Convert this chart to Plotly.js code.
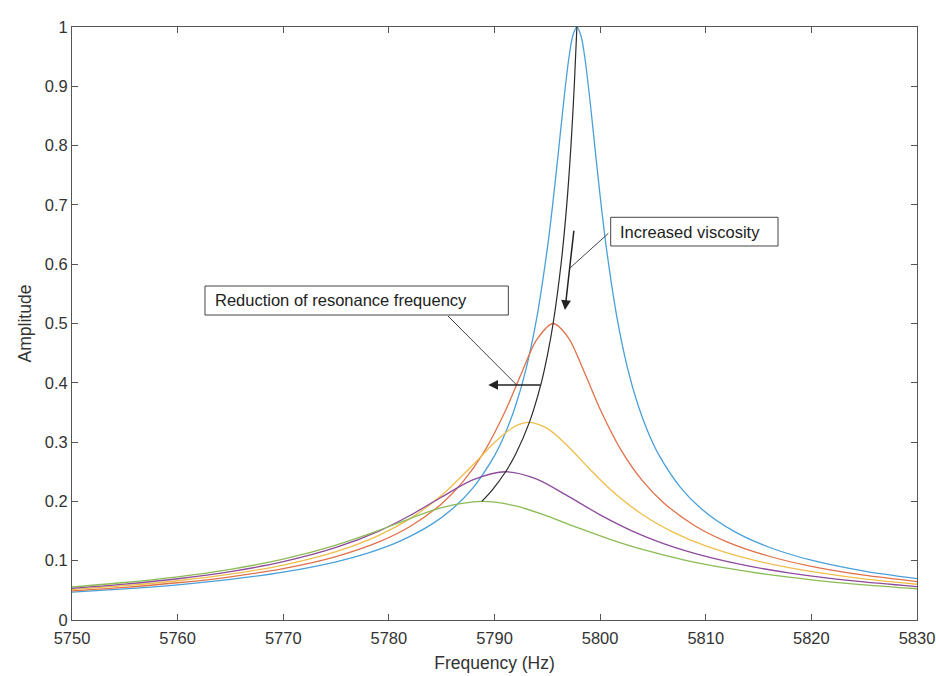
<!DOCTYPE html>
<html>
<head>
<meta charset="utf-8">
<script src="https://cdn.plot.ly/plotly-3.0.1.min.js"></script>
<style>html,body{margin:0;padding:0;background:#fff;}#chart{width:936px;height:676px;}</style>
</head>
<body>
<div id="chart"></div>
<script>
// Blue curve (lowest damping)
const freqBlue = [5750,5755,5760,5765,5770,5775,5778,5781,5784,5786,5788,5790,5791,5792,5793,5794,5795,5795.5,5796,5796.5,5797,5797.4,5797.8,5798.2,5798.6,5799.1,5799.6,5800.1,5800.6,5801.6,5802.6,5803.6,5804.6,5805.6,5807.6,5809.6,5812.6,5816,5820,5825,5830];
const ampBlue  = [0.0470,0.0525,0.0594,0.0684,0.0807,0.0982,0.1129,0.1327,0.1609,0.1873,0.2238,0.2771,0.3141,0.3617,0.4244,0.5095,0.6263,0.6993,0.7809,0.8659,0.9422,0.9845,1.0,0.9845,0.9422,0.8659,0.7809,0.6993,0.6263,0.5095,0.4244,0.3617,0.3141,0.2771,0.2238,0.1873,0.1503,0.1227,0.1008,0.0824,0.0697];
// Orange curve
const freqOrange = [5750,5755,5760,5765,5770,5775,5779,5782,5785,5787,5789,5791,5792.5,5794,5795.55,5797,5798.5,5800,5802,5804,5806,5809,5812,5816,5820,5825,5830];
const ampOrange  = [0.0492,0.0551,0.0628,0.0729,0.0867,0.1070,0.1312,0.1576,0.1962,0.2329,0.2831,0.3516,0.4139,0.4727,0.5,0.4759,0.4182,0.3555,0.2861,0.2350,0.1978,0.1586,0.1319,0.1075,0.0905,0.0755,0.0648];
// Yellow curve
const freqYellow = [5750,5755,5760,5765,5770,5775,5779,5782,5785,5788,5790,5792,5793.3,5795,5797,5799,5801,5804,5807,5810,5814,5818,5824,5830];
const ampYellow  = [0.0513,0.0578,0.0662,0.0773,0.0927,0.1153,0.1423,0.1709,0.2103,0.2622,0.2995,0.3273,0.3333,0.3232,0.2923,0.2547,0.2197,0.1778,0.1473,0.1249,0.1033,0.0879,0.0716,0.0603];
// Purple curve
const freqPurple = [5750,5755,5760,5765,5770,5775,5779,5782,5785,5788,5791.05,5794,5797,5800,5803,5806,5810,5814,5818,5824,5830];
const ampPurple  = [0.0535,0.0606,0.0696,0.0816,0.0983,0.1223,0.1496,0.1763,0.2075,0.2367,0.25,0.2376,0.2085,0.1773,0.1504,0.1289,0.1073,0.0913,0.0792,0.0659,0.0563];
// Green curve (highest damping)
const freqGreen = [5750,5755,5760,5765,5770,5775,5779,5782,5785,5788.8,5792,5795,5798,5801,5804,5808,5812,5816,5820,5825,5830];
const ampGreen  = [0.0557,0.0632,0.0728,0.0855,0.1027,0.1264,0.1508,0.1711,0.1895,0.2,0.1924,0.1752,0.1548,0.1356,0.1190,0.1011,0.0873,0.0764,0.0678,0.0594,0.0527];
// Black locus of the peaks
const freqLocus = [5788.8,5789.82,5791.05,5792.01,5793.3,5794.43,5795.05,5795.55,5796.3,5796.84,5797.24,5797.55,5797.8];
const ampLocus  = [0.2,0.22,0.25,0.28,0.3333,0.4,0.45,0.5,0.6,0.7,0.8,0.9,1.0];

const xTicks = [5750,5760,5770,5780,5790,5800,5810,5820,5830];
const yTicks = [0,0.1,0.2,0.3,0.4,0.5,0.6,0.7,0.8,0.9,1];
const yTickText = ['0','0.1','0.2','0.3','0.4','0.5','0.6','0.7','0.8','0.9','1'];

const FONT = 'Liberation Sans, Arial, Helvetica, sans-serif';
function curve(x, y, color, w) {
  return {x: x, y: y, type: 'scatter', mode: 'lines', line: {color: color, width: w || 1.3, shape: 'spline', smoothing: 0.8}, hoverinfo: 'skip'};
}
const traces = [
  curve(freqBlue, ampBlue, '#4aa0da'),
  curve(freqOrange, ampOrange, '#e0714a'),
  curve(freqYellow, ampYellow, '#efbe4a'),
  curve(freqPurple, ampPurple, '#8e4a9c'),
  curve(freqGreen, ampGreen, '#8cbb55'),
  curve(freqLocus, ampLocus, '#2a2a2a', 1.2)
];

const layout = {
  width: 936, height: 676,
  margin: {l: 72, r: 19, t: 27, b: 56},
  paper_bgcolor: '#fff', plot_bgcolor: '#fff',
  showlegend: false,
  font: {family: FONT, size: 16, color: '#333'},
  xaxis: {
    range: [5750, 5830], tickvals: xTicks, ticktext: xTicks.map(String),
    ticks: 'inside', ticklen: 6, tickcolor: '#555', tickwidth: 1,
    showline: true, linecolor: '#555', linewidth: 1, mirror: 'ticks',
    showgrid: false, zeroline: false, ticklabelstandoff: 3,
    tickfont: {size: 16.5, color: '#333'},
    title: {text: 'Frequency (Hz)', font: {size: 17.5, color: '#333'}, standoff: 10}
  },
  yaxis: {
    range: [0, 1], tickvals: yTicks, ticktext: yTickText,
    ticks: 'inside', ticklen: 6, tickcolor: '#555', tickwidth: 1,
    showline: true, linecolor: '#555', linewidth: 1, mirror: 'ticks',
    showgrid: false, zeroline: false,
    tickfont: {size: 16.5, color: '#333'},
    title: {text: 'Amplitude', font: {size: 17.5, color: '#333'}, standoff: 8}
  },
  shapes: [
    // text boxes
    {type: 'rect', xref: 'x', yref: 'y', x0: 5801.0, x1: 5816.84, y0: 0.6307, y1: 0.6791, line: {color: '#444', width: 1}, fillcolor: '#fff'},
    {type: 'rect', xref: 'x', yref: 'y', x0: 5762.59, x1: 5791.31, y0: 0.5143, y1: 0.5632, line: {color: '#444', width: 1}, fillcolor: '#fff'},
    // leader lines
    {type: 'line', xref: 'x', yref: 'y', x0: 5800.78, y0: 0.6521, x1: 5797.15, y1: 0.5936, line: {color: '#444', width: 1}},
    {type: 'line', xref: 'x', yref: 'y', x0: 5785.60, y0: 0.5126, x1: 5792.10, y1: 0.3963, line: {color: '#444', width: 1}}
  ],
  annotations: [
    {xref: 'x', yref: 'y', x: 5801.69, y: 0.655, xanchor: 'left', yanchor: 'middle', text: 'Increased viscosity', showarrow: false, font: {size: 16.5, color: '#222'}},
    {xref: 'x', yref: 'y', x: 5763.35, y: 0.5388, xanchor: 'left', yanchor: 'middle', text: 'Reduction of resonance frequency', showarrow: false, font: {size: 16.5, color: '#222'}},
    // arrows
    {xref: 'x', yref: 'y', axref: 'x', ayref: 'y', x: 5796.67, y: 0.5228, ax: 5797.53, ay: 0.659, text: '', showarrow: true, arrowhead: 2, arrowsize: 1.3, arrowwidth: 1.5, arrowcolor: '#222'},
    {xref: 'x', yref: 'y', axref: 'x', ayref: 'y', x: 5789.41, y: 0.3963, ax: 5794.47, ay: 0.3963, text: '', showarrow: true, arrowhead: 2, arrowsize: 1.3, arrowwidth: 1.5, arrowcolor: '#222'}
  ]
};

Plotly.newPlot('chart', traces, layout, {staticPlot: true, displayModeBar: false});
</script>
</body>
</html>
